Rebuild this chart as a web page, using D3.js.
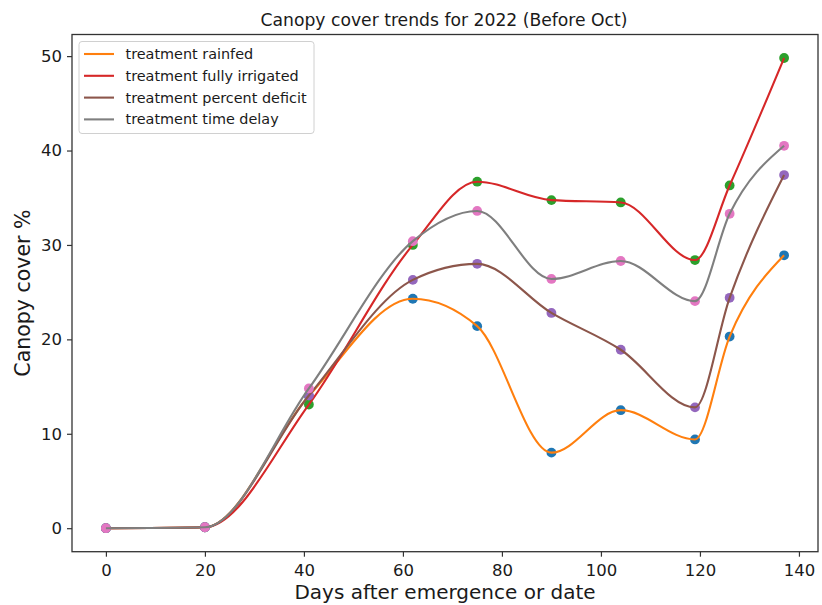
<!DOCTYPE html>
<html>
<head>
<meta charset="utf-8">
<script src="https://cdn.jsdelivr.net/npm/d3@7"></script>
<style>
  body { margin: 0; background: #fff; }
  text { font-family: "DejaVu Sans", sans-serif; fill: #1a1a1a; }
</style>
</head>
<body>
<svg id="chart" width="822" height="605"></svg>
<script>
// Days after emergence at which canopy cover was measured
let days = [0, 20, 41, 62, 75, 90, 104, 119, 126, 137];

// Canopy cover % per treatment
let rainfed = [0, 0.1, 14.0, 24.3, 21.4, 8.0, 12.5, 9.4, 20.3, 28.9];
let fullyIrrigated = [0, 0.1, 13.1, 30.0, 36.7, 34.75, 34.5, 28.4, 36.3, 49.8];
let percentDeficit = [0, 0.1, 14.05, 26.3, 28.0, 22.8, 18.9, 12.8, 24.4, 37.4];
let timeDelay = [0, 0.1, 14.8, 30.4, 33.6, 26.4, 28.3, 24.05, 33.3, 40.5];

let seriesNames = ["treatment rainfed", "treatment fully irrigated", "treatment percent deficit", "treatment time delay"];
let xTicks = [0, 20, 40, 60, 80, 100, 120, 140];
let yTicks = [0, 10, 20, 30, 40, 50];

// scatter colour, line colour (matplotlib cycle: dots and lines take turns)
let dotColors = ["#1f77b4", "#2ca02c", "#9467bd", "#e377c2"];
let lineColors = ["#ff7f0e", "#d62728", "#8c564b", "#7f7f7f"];

let allSeries = [rainfed, fullyIrrigated, percentDeficit, timeDelay];

let SVG = d3.select("#chart");
let margin = {top: 34.5, right: 4, bottom: 53.3, left: 72};
let width = 822 - margin.left - margin.right;
let height = 605 - margin.top - margin.bottom;

// matplotlib style 5% padding around data
let xmax = d3.max(days), ymax = d3.max(allSeries.map(s => d3.max(s)));
let x = d3.scaleLinear().domain([-0.05 * xmax, 1.05 * xmax]).range([0, width]);
let y = d3.scaleLinear().domain([-0.05 * ymax, 1.05 * ymax]).range([height, 0]);

let g = SVG.append("g").attr("transform", "translate(" + margin.left + "," + margin.top + ")");

let line = d3.line()
    .curve(d3.curveMonotoneX)
    .x((d, i) => x(days[i]))
    .y(d => y(d));

allSeries.forEach((values, k) => {
    g.append("g").selectAll("circle")
        .data(values)
        .enter()
        .append("circle")
        .attr("cx", (d, i) => x(days[i]))
        .attr("cy", d => y(d))
        .attr("r", 4.9)
        .style("fill", dotColors[k]);

    g.append("path")
        .datum(values)
        .attr("d", line)
        .style("fill", "none")
        .style("stroke", lineColors[k])
        .style("stroke-width", 2.1);
});

// axes
let xAxis = g.append("g")
    .attr("transform", "translate(0," + height + ")")
    .call(d3.axisBottom(x).tickValues(xTicks).tickSize(5).tickPadding(5));
let yAxis = g.append("g")
    .call(d3.axisLeft(y).tickValues(yTicks).tickSize(5).tickPadding(5));

[xAxis, yAxis].forEach(ax => {
    ax.select(".domain").remove();
    ax.selectAll(".tick line").style("stroke", "#333").style("stroke-width", 1.2);
    ax.selectAll(".tick text").style("font-size", "16.5px").style("fill", "#1a1a1a");
});
xAxis.selectAll(".tick text").attr("dy", "0.85em");

g.append("rect")
    .attr("width", width)
    .attr("height", height)
    .style("fill", "none")
    .style("stroke", "#333")
    .style("stroke-width", 1.3);

// titles
SVG.append("text")
    .attr("x", 444)
    .attr("y", 26)
    .style("text-anchor", "middle")
    .style("font-size", "17.2px")
    .text("Canopy cover trends for 2022 (Before Oct)");

SVG.append("text")
    .attr("x", margin.left + width / 2)
    .attr("y", 599)
    .style("text-anchor", "middle")
    .style("font-size", "20px")
    .text("Days after emergence or date");

SVG.append("text")
    .attr("transform", "rotate(-90)")
    .attr("x", -(margin.top + height / 2))
    .attr("y", 30)
    .style("text-anchor", "middle")
    .style("font-size", "20.5px")
    .text("Canopy cover %");

// legend
let legend = SVG.append("g").attr("transform", "translate(79,41.5)");
legend.append("rect")
    .attr("width", 235)
    .attr("height", 92)
    .attr("rx", 3)
    .style("fill", "#fff")
    .style("fill-opacity", 0.8)
    .style("stroke", "#d0d0d0");

seriesNames.forEach((name, k) => {
    let ly = 12.5 + k * 21.8;
    legend.append("line")
        .attr("x1", 5).attr("x2", 35)
        .attr("y1", ly).attr("y2", ly)
        .style("stroke", lineColors[k])
        .style("stroke-width", 2.1);
    legend.append("text")
        .attr("x", 46.5)
        .attr("y", ly)
        .attr("dy", "0.35em")
        .style("font-size", "14.4px")
        .text(name);
});
</script>
</body>
</html>
